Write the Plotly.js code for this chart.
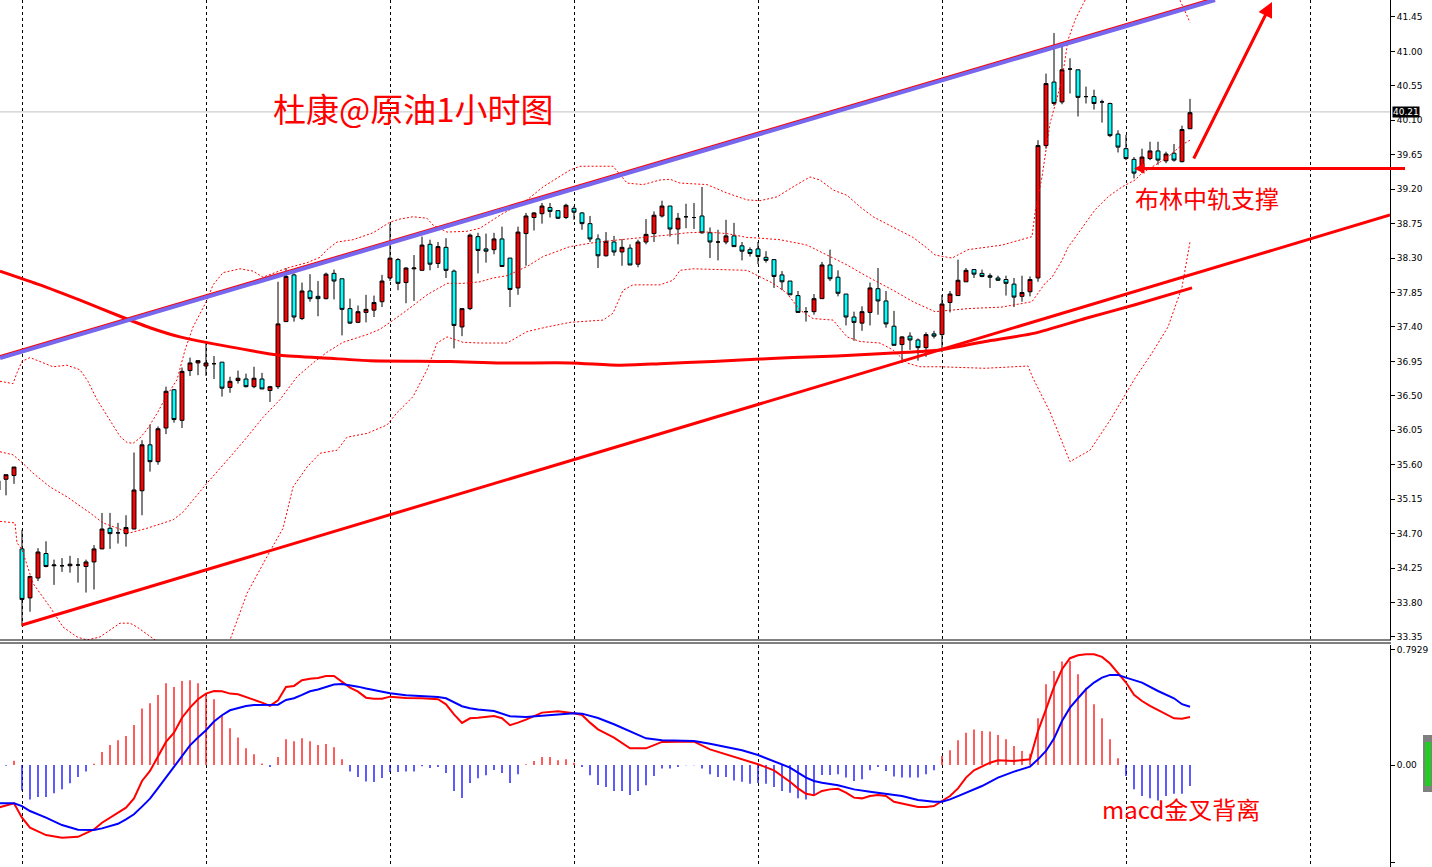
<!DOCTYPE html>
<html><head><meta charset="utf-8">
<script src="https://cdn.plot.ly/plotly-3.0.1.min.js"></script>
<style>html,body{margin:0;padding:0;background:#fff;}#chart{width:1432px;height:867px;}</style>
</head><body><div id="chart"></div>
<script>
// ---- candles (bar index -3 .. 146) ----
const candleIdx = [];
for (let i = -3; i <= 146; i++) candleIdx.push(i);
const opens = [35.27,35.41,35.46,34.50,33.86,34.12,34.44,34.28,34.28,34.28,34.29,34.27,34.33,34.50,34.77,34.71,34.70,34.76,35.26,35.86,35.64,36.08,36.58,36.18,36.83,36.93,36.89,36.92,36.94,36.61,36.70,36.72,36.62,36.72,36.57,36.62,37.47,38.08,37.51,37.87,37.80,37.77,38.10,38.03,37.64,37.46,37.59,37.62,37.73,38.04,38.28,37.98,38.16,38.14,38.48,38.23,38.44,38.13,37.40,37.64,38.58,38.42,38.41,38.55,38.30,37.91,38.62,38.83,38.88,38.96,38.92,38.83,38.95,38.89,38.75,38.55,38.33,38.51,38.38,38.43,38.22,38.51,38.62,38.85,38.98,38.68,38.84,38.83,38.85,38.63,38.51,38.51,38.59,38.46,38.41,38.42,38.31,38.28,38.08,38.00,37.81,37.60,37.60,37.77,38.21,38.05,37.83,37.53,37.45,37.59,37.90,37.74,37.41,37.17,37.28,37.23,37.13,37.31,37.30,37.72,37.81,37.99,38.15,38.10,38.07,38.04,38.02,37.96,37.80,37.86,38.04,39.77,40.60,40.34,40.77,40.76,40.41,40.41,40.34,40.32,39.92,39.73,39.59,39.49,39.60,39.70,39.57,39.67,39.56,39.99];
const highs = [35.43,35.47,35.57,34.75,34.15,34.51,34.60,34.36,34.38,34.41,34.38,34.36,34.55,34.97,34.97,34.84,34.94,35.76,35.92,36.12,36.10,36.62,36.59,36.87,37.00,36.96,37.19,37.02,36.94,36.75,36.83,36.79,36.88,36.80,36.63,37.99,38.17,38.10,37.98,38.09,38.00,38.11,38.15,38.03,37.77,37.68,37.82,37.81,38.08,38.75,38.30,38.18,38.34,38.58,38.54,38.51,38.56,38.15,37.64,38.62,38.63,38.62,38.63,38.71,38.30,38.71,38.89,38.90,39.02,39.02,38.92,39.01,38.98,38.90,38.85,38.61,38.64,38.59,38.55,38.48,38.54,38.81,38.91,39.05,38.98,38.89,39.01,39.02,39.23,38.70,38.67,38.80,38.76,38.51,38.44,38.51,38.39,38.28,38.13,38.00,37.87,37.66,37.83,38.25,38.41,38.14,37.83,37.60,37.67,37.98,38.17,37.87,37.61,37.28,37.33,37.25,37.33,37.35,37.82,37.87,38.28,38.17,38.15,38.15,38.10,38.07,38.07,38.04,38.07,38.06,39.84,40.71,41.24,41.07,40.91,40.76,40.54,40.50,40.37,40.33,39.97,39.91,39.62,39.73,39.82,39.82,39.69,39.79,40.03,40.38];
const lows = [35.19,35.20,35.35,33.49,33.68,34.08,34.26,34.03,34.20,34.19,34.06,33.93,33.97,34.50,34.50,34.57,34.53,34.76,34.94,35.51,35.60,36.00,36.15,36.08,36.76,36.77,36.76,36.72,36.49,36.54,36.66,36.61,36.60,36.59,36.42,36.59,37.47,37.47,37.49,37.73,37.54,37.76,37.76,37.29,37.44,37.45,37.46,37.53,37.66,38.00,37.88,37.71,37.74,38.14,38.14,38.17,38.04,37.12,37.28,37.62,38.10,38.24,38.35,38.19,37.66,37.82,38.20,38.66,38.75,38.83,38.81,38.81,38.80,38.67,38.51,38.17,38.32,38.33,38.20,38.21,38.18,38.48,38.51,38.83,38.58,38.48,38.69,38.68,38.62,38.30,38.27,38.48,38.45,38.27,38.32,38.22,38.24,37.91,37.88,37.82,37.59,37.47,37.56,37.77,38.00,37.80,37.42,37.22,37.35,37.42,37.56,37.39,37.16,36.93,37.10,36.96,37.01,37.25,37.07,37.59,37.81,37.99,38.04,38.05,37.91,38.00,37.81,37.66,37.73,37.80,37.99,39.73,40.29,40.31,40.45,40.15,40.32,40.24,40.07,39.88,39.68,39.58,39.34,39.41,39.58,39.52,39.54,39.56,39.55,39.99];
const closes = [35.39,35.47,35.57,33.84,34.14,34.46,34.27,34.29,34.28,34.30,34.29,34.33,34.50,34.76,34.70,34.71,34.78,35.27,35.86,35.64,36.07,36.56,36.19,36.82,36.93,36.96,36.93,36.92,36.60,36.69,36.73,36.62,36.73,36.59,36.62,37.44,38.06,37.53,37.87,37.77,37.77,38.09,38.00,37.63,37.45,37.60,37.63,37.72,38.00,38.30,37.97,38.17,38.17,38.47,38.22,38.45,38.14,37.42,37.64,38.60,38.40,38.39,38.55,38.19,37.89,38.64,38.85,38.89,38.98,38.91,38.82,38.99,38.90,38.75,38.55,38.33,38.52,38.38,38.44,38.21,38.51,38.61,38.86,38.98,38.68,38.82,38.84,38.83,38.63,38.51,38.51,38.59,38.45,38.39,38.36,38.32,38.27,38.06,37.99,37.82,37.59,37.60,37.77,38.21,38.03,37.84,37.53,37.46,37.60,37.91,37.74,37.44,37.16,37.27,37.23,37.13,37.30,37.28,37.70,37.83,38.01,38.14,38.09,38.06,38.05,38.01,37.97,37.79,37.85,38.02,39.77,40.58,40.32,40.76,40.77,40.40,40.41,40.32,40.34,39.90,39.75,39.60,39.41,39.62,39.70,39.58,39.66,39.58,39.98,40.20];

// ---- Bollinger bands (read at sample bars) ----
const bbUpIdx = [-2.75,-1.13,-0.63,0,1,2.25,3.88,5.63,7.25,8.25,9.38,11,12.25,13.13,13.88,14.75,15.63,16.88,18.13,19.38,20.38,21.38,23.13,23.88,25.13,27.25,28.88,30.13,33.13,35.63,37.25,38.13,39.38,41.38,43.88,46,47.25,48.88,50.63,51.38,53.13,55.63,57.25,59.75,63.13,65.13,68.5,69.75,73.88,75.63,77.63,79.75,81,82.25,85.63,88.13,90.63,92.25,94.38,96.38,98.5,99.75,101.38,103.13,104.75,106.38,108.88,111.38,113.13,114.13,116.25,118.25,122.5,126.25,126.63,127.5,128.5,130,130.75,131.63,132.88,134.75,138.5,142.25,144.75,146];
const bbUpVal = [36.69,36.66,36.80,36.95,37.00,36.95,36.88,36.90,36.84,36.69,36.45,36.18,35.97,35.89,35.88,35.95,36.06,36.27,36.51,36.71,37.10,37.40,37.75,37.95,38.11,38.16,38.13,38.05,38.17,38.24,38.31,38.41,38.51,38.54,38.63,38.77,38.81,38.84,38.82,38.73,38.64,38.65,38.69,38.86,39.06,39.23,39.45,39.50,39.50,39.28,39.26,39.32,39.33,39.28,39.26,39.15,39.06,39.05,39.10,39.23,39.36,39.32,39.19,39.12,38.97,38.84,38.71,38.57,38.43,38.34,38.30,38.41,38.47,38.58,38.89,39.36,40.06,40.63,41.15,41.41,41.67,42.13,42.33,42.13,41.67,41.38];
const bbMidIdx = [-2.75,-1.13,0,1.38,3.5,5.63,8.5,10.13,13.5,15.63,18.88,20.13,21.38,23.13,26,28.13,30.13,32.25,34.38,36.38,38.13,40.13,43.13,44.75,46,48.13,50.63,53.13,55.13,57.25,58.88,60.63,63.13,65.13,68.5,71.38,74.75,78.13,80.63,83.13,85.63,88.13,90.63,92.25,94.75,98.13,100.63,103.13,105.63,108.88,111.38,114.13,118.25,122.5,126.25,127.88,128.75,130,130.75,131.63,132.88,134.13,135.75,137.5,139.13,140,141.25,143.25,145,146];
const bbMidVal = [35.77,35.73,35.63,35.49,35.31,35.18,34.97,34.84,34.71,34.77,34.88,34.98,35.14,35.36,35.70,35.96,36.22,36.45,36.75,36.93,37.07,37.20,37.30,37.37,37.46,37.62,37.82,37.97,37.97,37.99,38.04,38.07,38.19,38.32,38.45,38.50,38.54,38.57,38.60,38.63,38.64,38.62,38.57,38.56,38.54,38.47,38.34,38.21,38.06,37.88,37.73,37.60,37.64,37.66,37.73,37.97,38.05,38.27,38.44,38.57,38.76,38.93,39.10,39.23,39.32,39.41,39.49,39.62,39.78,39.84];
const bbLowIdx = [-2.75,-0.88,-0.63,0,1.38,3.5,5.13,6.88,8.13,9.75,12.25,13.5,14.38,16.63,21,24.75,26,28.13,30.63,32.63,33.88,35.63,37.25,39.38,40.63,43.13,45.63,46.88,48.88,50.63,51.88,53.13,55.13,57.25,60.63,63.13,65.63,68.5,72.63,73.88,75.13,76.38,79.75,81.38,82.25,83.88,90.63,92.25,93.88,95.63,97.25,98.88,101.38,103.13,104.75,107.25,108.88,110.63,112.25,114.75,120.38,125.75,126.38,128.5,131,133.5,136,139.13,141.25,143.25,145,146];
const bbLowVal = [34.86,34.84,34.58,34.49,34.05,33.74,33.48,33.35,33.31,33.35,33.53,33.53,33.48,33.31,33.05,33.11,33.31,33.92,34.40,34.77,35.31,35.57,35.75,35.79,35.96,36.01,36.12,36.28,36.49,36.84,37.19,37.27,37.20,37.19,37.19,37.34,37.40,37.46,37.49,37.58,37.88,37.95,37.95,38.01,38.14,38.16,38.14,38.06,37.97,37.84,37.62,37.51,37.49,37.27,37.21,37.19,37.10,36.93,36.88,36.88,36.86,36.89,36.73,36.29,35.64,35.79,36.18,36.73,37.06,37.40,37.92,38.51];

// ---- thick moving average ----
const maIdx = [-2.75,2.25,7.25,12.25,16,19.75,26,32.25,38.5,43.5,53.5,59.75,68.5,74.75,79.75,86.38,92.25,96.38,101.88,108.88,114.75,120.38,126.63,132.88,139.13,146.25];
const maVal = [38.13,37.95,37.75,37.54,37.39,37.27,37.14,37.03,36.99,36.96,36.95,36.93,36.93,36.90,36.92,36.95,36.98,37.00,37.02,37.06,37.10,37.21,37.32,37.51,37.69,37.91];

// ---- hand-drawn trend lines (bar index, price) ----
const purpleLineX = [-2.75, 149.125];
const purpleLineY = [36.995, 41.672];
const redUpperX = [-2.75, 149.125];
const redUpperY = [37.014, 41.692];
const channelLowX = [0, 171];
const channelLowY = [33.506, 38.863];

// ---- MACD ----
const histIdx = [];
for (let i = -2; i <= 146; i++) histIdx.push(i);
const histVal = [-0.005,0.03,-0.175,-0.237,-0.22,-0.22,-0.195,-0.168,-0.126,-0.083,-0.044,0.009,0.09,0.138,0.17,0.2,0.276,0.39,0.425,0.483,0.563,0.538,0.579,0.584,0.563,0.487,0.453,0.338,0.253,0.19,0.115,0.074,0.011,-0.014,0.055,0.177,0.163,0.184,0.163,0.138,0.145,0.122,0.039,-0.044,-0.083,-0.113,-0.117,-0.09,-0.048,-0.048,-0.044,-0.044,-0.009,-0.021,-0.014,-0.055,-0.179,-0.228,-0.124,-0.092,-0.071,-0.034,-0.055,-0.124,-0.064,0.005,0.028,0.055,0.055,0.032,0.039,0.016,-0.014,-0.071,-0.138,-0.152,-0.179,-0.179,-0.207,-0.179,-0.14,-0.076,-0.025,-0.025,-0.014,-0.002,-0.002,-0.025,-0.064,-0.083,-0.083,-0.106,-0.115,-0.129,-0.124,-0.129,-0.152,-0.179,-0.191,-0.23,-0.237,-0.207,-0.069,-0.069,-0.064,-0.087,-0.11,-0.099,-0.037,-0.014,-0.041,-0.08,-0.087,-0.087,-0.087,-0.064,-0.037,0.062,0.101,0.17,0.223,0.244,0.234,0.23,0.207,0.177,0.131,0.097,0.078,0.322,0.556,0.648,0.713,0.717,0.625,0.533,0.418,0.322,0.177,0.046,-0.076,-0.168,-0.214,-0.23,-0.244,-0.214,-0.198,-0.198,-0.145];
const macdRedIdx = [-3,-1,0,1,3,5,7,9,10,12,13,14,15,16,17,18,19,20,21,22,23,24,25,26,27,28,29,30,31,32,33,34,35,36,37,38,39,40,41,42,43,44,45,46,48,50,52,53,54,55,56,57,59,60,61,62,63,65,67,69,70,71,72,74,76,78,80,82,84,86,88,90,92,94,96,97,98,99,100,101,102,103,104,105,106,107,108,109,110,111,112,113,114,115,116,117,118,119,120,121,122,124,126,127,128,129,130,131,132,133,134,135,136,137,138,139,140,141,142,143,144,145,146];
const macdRedVal = [-0.294,-0.264,-0.363,-0.432,-0.483,-0.501,-0.495,-0.444,-0.398,-0.329,-0.294,-0.23,-0.11,-0.041,0.062,0.159,0.223,0.326,0.395,0.453,0.492,0.51,0.508,0.492,0.487,0.469,0.453,0.43,0.407,0.446,0.538,0.545,0.584,0.595,0.6,0.614,0.614,0.572,0.533,0.506,0.464,0.457,0.457,0.471,0.462,0.46,0.453,0.418,0.349,0.29,0.322,0.326,0.338,0.322,0.274,0.292,0.313,0.361,0.37,0.356,0.345,0.292,0.246,0.189,0.115,0.115,0.159,0.161,0.161,0.108,0.074,0.044,0.005,-0.037,-0.115,-0.161,-0.198,-0.209,-0.179,-0.168,-0.164,-0.191,-0.225,-0.23,-0.214,-0.207,-0.214,-0.253,-0.265,-0.276,-0.29,-0.29,-0.283,-0.248,-0.214,-0.161,-0.087,-0.037,-0.011,0.016,0.032,0.028,0.039,0.234,0.384,0.538,0.66,0.736,0.756,0.763,0.763,0.745,0.699,0.637,0.568,0.483,0.441,0.407,0.377,0.349,0.322,0.319,0.331];
const macdBlueIdx = [-3,-1,0,1,3,5,7,9,10,12,13,14,15,16,17,18,19,20,21,22,23,24,25,26,27,28,29,30,31,32,33,34,35,36,37,38,39,40,41,42,43,44,45,46,48,50,52,53,54,55,56,57,59,61,63,65,67,69,70,71,72,74,76,78,80,82,84,86,88,90,92,94,96,97,98,99,100,102,104,106,108,110,112,114,115,116,117,118,120,122,124,126,127,128,129,130,131,132,133,134,135,136,137,138,140,142,144,145,146];
const macdBlueVal = [-0.264,-0.264,-0.283,-0.317,-0.363,-0.414,-0.446,-0.448,-0.437,-0.405,-0.375,-0.34,-0.287,-0.232,-0.16,-0.087,-0.014,0.06,0.135,0.19,0.24,0.30,0.343,0.377,0.391,0.407,0.414,0.416,0.414,0.416,0.448,0.46,0.483,0.508,0.52,0.538,0.554,0.559,0.552,0.54,0.527,0.515,0.503,0.494,0.48,0.474,0.469,0.46,0.43,0.405,0.391,0.382,0.372,0.336,0.331,0.338,0.349,0.356,0.354,0.338,0.324,0.281,0.23,0.184,0.17,0.17,0.166,0.147,0.124,0.101,0.069,0.028,-0.018,-0.053,-0.087,-0.11,-0.122,-0.14,-0.168,-0.184,-0.198,-0.214,-0.241,-0.253,-0.253,-0.237,-0.214,-0.191,-0.145,-0.087,-0.046,-0.011,0.039,0.097,0.182,0.303,0.395,0.46,0.522,0.568,0.602,0.621,0.621,0.602,0.568,0.51,0.46,0.419,0.402];

// ---- axis tick labels ----
const priceTicks = [33.35,33.80,34.25,34.70,35.15,35.60,36.05,36.50,36.95,37.40,37.85,38.30,38.75,39.20,39.65,40.10,40.55,41.00,41.45];
const priceTickText = priceTicks.map(v => v.toFixed(2));
const macdTicks = [0.7929, 0, -0.6719];
const macdTickText = ['0.7929', '0.00', '-0.6719'];
const lastPrice = 40.21;

// ---- texts ----
const titleText = '杜康@原油1小时图';
const bollText = '布林中轨支撑';
const macdText = 'macd金叉背离';

const W = 1432, H = 867, PW = 1390;
const px = x => x / PW;          // pixel x -> paper x
const py = y => 1 - y / H;       // pixel y -> paper y

const dotted = {color: '#ff0000', width: 1, dash: '2px,2px'};
const traces = [
  {type:'scatter', mode:'lines', x:bbUpIdx, y:bbUpVal, line:dotted, hoverinfo:'skip'},
  {type:'scatter', mode:'lines', x:bbMidIdx, y:bbMidVal, line:dotted, hoverinfo:'skip'},
  {type:'scatter', mode:'lines', x:bbLowIdx, y:bbLowVal, line:dotted, hoverinfo:'skip'},
  {type:'scatter', mode:'lines', x:maIdx, y:maVal, line:{color:'#ff0000', width:3, shape:'spline', smoothing:0.6}, hoverinfo:'skip'},
  {type:'candlestick', x:candleIdx, open:opens, high:highs, low:lows, close:closes,
    increasing:{line:{color:'#000000', width:1}, fillcolor:'#ff0000'},
    decreasing:{line:{color:'#000000', width:1}, fillcolor:'#00ffff'},
    whiskerwidth:0, hoverinfo:'skip'},
  {type:'scatter', mode:'lines', x:redUpperX, y:redUpperY, line:{color:'#ff0000', width:3}, hoverinfo:'skip'},
  {type:'scatter', mode:'lines', x:purpleLineX, y:purpleLineY, line:{color:'#7766ee', width:4}, hoverinfo:'skip'},
  {type:'scatter', mode:'lines', x:channelLowX, y:channelLowY, line:{color:'#ff0000', width:3}, hoverinfo:'skip'},
  {type:'bar', x:histIdx, y:histVal, width:0.16, yaxis:'y2',
    marker:{color:histVal.map(v => v >= 0 ? '#ff0000' : '#0000ff'), line:{width:0}}, hoverinfo:'skip'},
  {type:'scatter', mode:'lines', x:macdRedIdx, y:macdRedVal, yaxis:'y2', line:{color:'#ff0000', width:2}, hoverinfo:'skip'},
  {type:'scatter', mode:'lines', x:macdBlueIdx, y:macdBlueVal, yaxis:'y2', line:{color:'#0000ff', width:2}, hoverinfo:'skip'}
];

const tickFont = {family:'DejaVu Sans', size:9, color:'#000'};
const layout = {
  width:W, height:H,
  margin:{l:0, r:42, t:0, b:0},
  paper_bgcolor:'#ffffff', plot_bgcolor:'#ffffff',
  showlegend:false,
  xaxis:{range:[-2.75,171], showticklabels:false, ticks:'', showgrid:true, tick0:0, dtick:23,
    gridcolor:'#000000', griddash:'3px,3px', gridwidth:1, zeroline:false, showline:false,
    rangeslider:{visible:false}, fixedrange:true},
  yaxis:{domain:[1-640/H, 1], range:[33.31, 41.672], side:'right', tickvals:priceTicks, ticktext:priceTickText,
    ticks:'outside', ticklen:4, tickcolor:'#000', showline:true, linecolor:'#000', linewidth:1,
    showgrid:false, zeroline:false, tickfont:tickFont, fixedrange:true},
  yaxis2:{domain:[0, 1-645/H], range:[-0.703, 0.827], side:'right', anchor:'x', tickvals:macdTicks, ticktext:macdTickText,
    ticks:'outside', ticklen:4, tickcolor:'#000', showline:true, linecolor:'#000', linewidth:1,
    showgrid:false, zeroline:false, tickfont:tickFont, fixedrange:true},
  shapes:[
    {type:'line', xref:'paper', yref:'y', x0:0, x1:1, y0:lastPrice, y1:lastPrice, line:{color:'#c0c0c0', width:1}, layer:'below'},
    {type:'line', xref:'paper', yref:'paper', x0:0, x1:px(1391), y0:py(640), y1:py(640), line:{color:'#000', width:1}},
    {type:'line', xref:'paper', yref:'paper', x0:0, x1:px(1391), y0:py(643), y1:py(643), line:{color:'#000', width:1}},
    {type:'line', xref:'paper', yref:'paper', x0:px(1140), x1:px(1405), y0:py(168.5), y1:py(168.5), line:{color:'#ff0000', width:3}},
    {type:'rect', xref:'paper', yref:'paper', x0:px(1423), x1:px(1432), y0:py(792), y1:py(735), fillcolor:'#7f7f7f', line:{width:0}},
    {type:'rect', xref:'paper', yref:'paper', x0:px(1425), x1:px(1431), y0:py(786), y1:py(742), fillcolor:'#22cc22', line:{width:0}}
  ],
  annotations:[
    {xref:'paper', yref:'y', x:px(1392), y:lastPrice, xanchor:'left', yanchor:'middle', text:lastPrice.toFixed(2),
      showarrow:false, bgcolor:'#000', font:{family:'DejaVu Sans', size:9, color:'#fff'}, borderpad:0},
    {xref:'paper', yref:'paper', x:px(413), y:py(108), xanchor:'center', yanchor:'middle', text:titleText, showarrow:false,
      font:{family:'Noto Sans CJK SC', size:33, color:'#ff0000'}},
    {xref:'paper', yref:'paper', x:px(1207), y:py(198), xanchor:'center', yanchor:'middle', text:bollText, showarrow:false,
      font:{family:'Noto Sans CJK SC', size:24, color:'#ff0000'}},
    {xref:'paper', yref:'paper', x:px(1181), y:py(808), xanchor:'center', yanchor:'middle', text:macdText, showarrow:false,
      font:{family:'Noto Sans CJK SC', size:24, color:'#ff0000'}},
    {xref:'paper', yref:'paper', x:px(1134), y:py(168.5), ax:12, ay:0, text:'', showarrow:true,
      arrowhead:2, arrowsize:0.7, arrowwidth:3, arrowcolor:'#ff0000'},
    {xref:'paper', yref:'paper', x:px(1272), y:py(2), ax:-79, ay:158, text:'', showarrow:true,
      arrowhead:2, arrowsize:1, arrowwidth:3, arrowcolor:'#ff0000'}
  ]
};

Plotly.newPlot('chart', traces, layout, {displayModeBar:false, staticPlot:true});
</script>
</body></html>
